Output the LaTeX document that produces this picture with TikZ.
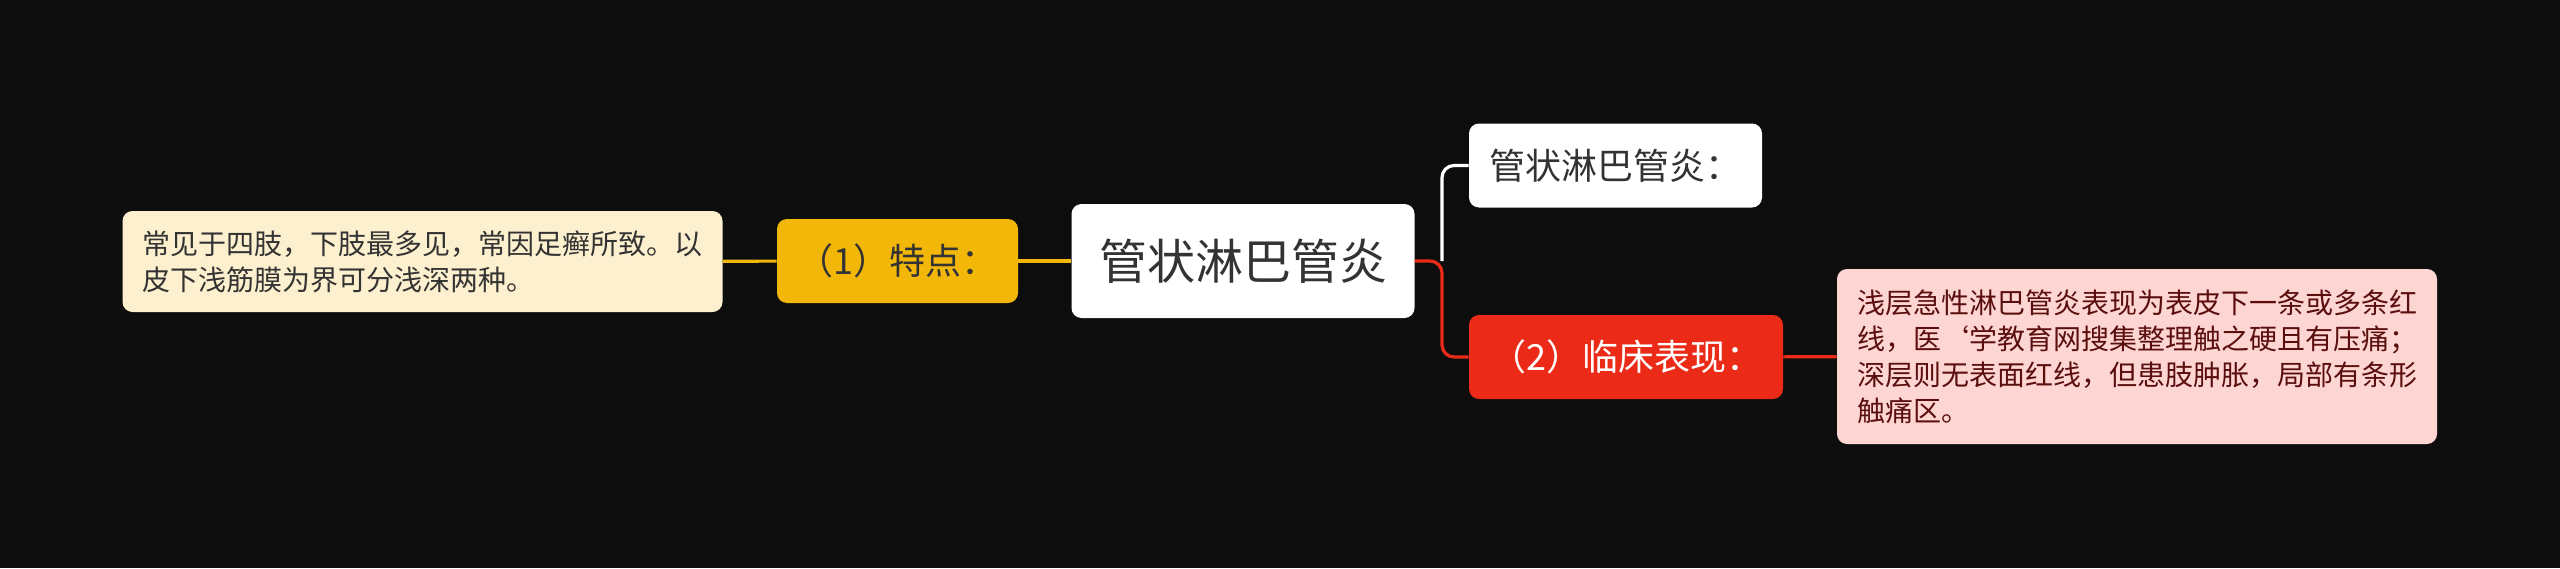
\documentclass[tikz,border=0pt]{standalone}
\usepackage{fontspec}
\setmainfont{Noto Sans CJK SC}
\definecolor{bgc}{HTML}{0D0D0D}
\definecolor{txt}{HTML}{333333}
\definecolor{gold}{HTML}{F2B709}
\definecolor{cream}{HTML}{FDF0CE}
\definecolor{scarlet}{HTML}{EB2B18}
\definecolor{pink}{HTML}{FDD5D2}
\definecolor{darkred}{HTML}{5A0E0E}
\begin{document}
\begin{tikzpicture}[x=0.5pt,y=-0.5pt]
\tikzstyle{box}=[rounded corners=5pt,inner sep=0pt,align=left]
\tikzstyle{mid}=[box,font=\fontsize{18}{22}\selectfont,minimum height=42pt]
\tikzstyle{leaf}=[box,font=\fontsize{14}{18}\selectfont,inner xsep=10pt]
\tikzstyle{link}=[line width=1.6pt,rounded corners=6pt]
\fill[bgc] (0,0) rectangle (2560,568);
% centre
\node[box,fill=white,text=txt,font=\fontsize{24}{28}\selectfont,minimum width=171.5pt,minimum height=57pt] (root) at (1243,261) {管状淋巴管炎};
% left side
\node[mid,fill=gold,text=txt,minimum width=120.5pt] (feat) at (897.5,261) {（1）特点：};
\node[leaf,fill=cream,text=txt,minimum height=50.5pt] (featleaf) at (422.5,261.5) {常见于四肢，下肢最多见，常因足癣所致。以\\皮下浅筋膜为界可分浅深两种。};
% right side
\node[mid,fill=white,text=txt,minimum width=146.5pt] (name) at (1615.5,165.5) {管状淋巴管炎：};
\node[mid,fill=scarlet,text=white,minimum width=157pt] (clin) at (1626,357) {（2）临床表现：};
\node[leaf,fill=pink,text=darkred,minimum height=87.5pt] (clinleaf) at (2137,356.5) {浅层急性淋巴管炎表现为表皮下一条或多条红\\线，医\char96 学教育网搜集整理触之硬且有压痛；\\深层则无表面红线，但患肢肿胀，局部有条形\\触痛区。};
\coordinate (fork) at (1442,261);
\draw[link,gold] (featleaf) -- (feat);
\draw[link,gold] (feat) -- (root);
\draw[link,white] (fork) |- (name.west);
\draw[link,scarlet] (root.east) -- (fork) |- (clin.west);
\draw[link,scarlet] (clin) -- (clinleaf);
\end{tikzpicture}
\end{document}
